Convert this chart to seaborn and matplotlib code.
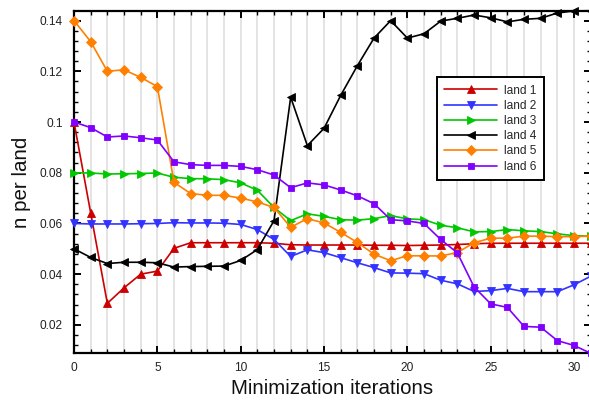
import numpy as np
import pandas as pd
import seaborn as sns
import matplotlib
matplotlib.use("Agg")
import matplotlib.pyplot as plt
from matplotlib.ticker import MultipleLocator, FuncFormatter

iterations = list(range(32))

land_1 = [0.1000, 0.0642, 0.0285, 0.0346, 0.0400, 0.0412, 0.0502, 0.0524,
          0.0524, 0.0524, 0.0524, 0.0524, 0.0522, 0.0516, 0.0515, 0.0515,
          0.0515, 0.0515, 0.0514, 0.0514, 0.0513, 0.0514, 0.0515, 0.0517,
          0.0520, 0.0522, 0.0522, 0.0522, 0.0522, 0.0522, 0.0522, 0.0522]
land_2 = [0.0600, 0.0598, 0.0598, 0.0598, 0.0599, 0.0600, 0.0603, 0.0602,
          0.0602, 0.0601, 0.0596, 0.0576, 0.0537, 0.0470, 0.0496, 0.0485,
          0.0465, 0.0445, 0.0426, 0.0405, 0.0404, 0.0402, 0.0376, 0.0362,
          0.0332, 0.0335, 0.0344, 0.0331, 0.0331, 0.0331, 0.0358, 0.0392]
land_3 = [0.0800, 0.0799, 0.0795, 0.0796, 0.0797, 0.0799, 0.0782, 0.0777,
          0.0776, 0.0773, 0.0760, 0.0731, 0.0663, 0.0611, 0.0638, 0.0628,
          0.0615, 0.0613, 0.0619, 0.0631, 0.0618, 0.0615, 0.0593, 0.0583,
          0.0567, 0.0568, 0.0576, 0.0571, 0.0568, 0.0559, 0.0552, 0.0550]
land_4 = [0.0500, 0.0466, 0.0442, 0.0447, 0.0447, 0.0445, 0.0428, 0.0430,
          0.0431, 0.0432, 0.0454, 0.0497, 0.0611, 0.1098, 0.0907, 0.0975,
          0.1105, 0.1222, 0.1331, 0.1400, 0.1331, 0.1348, 0.1398, 0.1409,
          0.1422, 0.1411, 0.1395, 0.1405, 0.1409, 0.1430, 0.1438, 0.1439]
land_5 = [0.1400, 0.1317, 0.1200, 0.1206, 0.1176, 0.1140, 0.0762, 0.0718,
          0.0711, 0.0711, 0.0700, 0.0685, 0.0663, 0.0585, 0.0619, 0.0602,
          0.0565, 0.0525, 0.0479, 0.0453, 0.0473, 0.0472, 0.0472, 0.0485,
          0.0524, 0.0542, 0.0542, 0.0550, 0.0550, 0.0548, 0.0548, 0.0550]
land_6 = [0.1000, 0.0978, 0.0941, 0.0945, 0.0938, 0.0929, 0.0843, 0.0832,
          0.0829, 0.0829, 0.0825, 0.0812, 0.0791, 0.0741, 0.0760, 0.0752,
          0.0732, 0.0709, 0.0678, 0.0615, 0.0610, 0.0600, 0.0537, 0.0484,
          0.0350, 0.0283, 0.0269, 0.0194, 0.0191, 0.0138, 0.0119, 0.0088]

series_names = ["land 1", "land 2", "land 3", "land 4", "land 5", "land 6"]
series_values = [land_1, land_2, land_3, land_4, land_5, land_6]

colors = {"land 1": "#cc0000", "land 2": "#3333ff", "land 3": "#00c800",
          "land 4": "#000000", "land 5": "#ff8000", "land 6": "#8000ff"}
markers = {"land 1": "^", "land 2": "v", "land 3": ">",
           "land 4": "<", "land 5": "D", "land 6": "s"}
marker_sizes = {"land 1": 5.2, "land 2": 5.2, "land 3": 5.2,
                "land 4": 5.2, "land 5": 4.6, "land 6": 4.6}

df = pd.DataFrame({
    "iteration": np.tile(iterations, len(series_names)),
    "value": np.concatenate(series_values),
    "land": np.repeat(series_names, len(iterations)),
})

sns.set_theme(style="white")
plt.rcParams["font.family"] = ["Liberation Sans", "DejaVu Sans"]

fig = plt.figure(figsize=(5.89, 4.05), dpi=100)
ax = fig.add_axes([74 / 589, 1 - 353.3 / 405, 516.7 / 589, 342.6 / 405])

sns.lineplot(data=df, x="iteration", y="value", hue="land", style="land",
             hue_order=series_names, style_order=series_names,
             palette=colors, markers=markers, dashes=False,
             linewidth=1.2, legend=False, ax=ax, zorder=3)

for line, name in zip(ax.lines, series_names):
    line.set_markeredgecolor(colors[name])
    line.set_markerfacecolor(colors[name])
    line.set_markersize(marker_sizes[name])
    line.set_markeredgewidth(0.6)
    line.set_clip_on(False)

all_vals = np.concatenate(series_values)
ax.set_xlim(0, 31)
ax.set_ylim(all_vals.min(), all_vals.max())

ax.xaxis.set_major_locator(MultipleLocator(5))
ax.xaxis.set_minor_locator(MultipleLocator(1))
ax.yaxis.set_major_locator(MultipleLocator(0.02))
ax.yaxis.set_minor_locator(MultipleLocator(0.004))
ax.yaxis.set_major_formatter(FuncFormatter(lambda v, p: f"{v:g}"))

ax.grid(axis="x", which="both", color="#dcdcdc", linewidth=1.1, zorder=0)
ax.grid(axis="y", visible=False)
ax.set_axisbelow(True)

for side in ["left", "top", "bottom", "right"]:
    ax.spines[side].set_color("black")
    ax.spines[side].set_linewidth(1.6)

ax.tick_params(which="major", direction="in", length=5, width=1.4,
               colors="black", labelsize=8.6, top=True, bottom=True,
               left=True, right=True)
ax.tick_params(which="minor", direction="in", length=3, width=1.0,
               colors="black", top=True, bottom=True, left=True, right=True)
ax.tick_params(axis="y", which="major", pad=8)
ax.tick_params(axis="x", which="major", pad=6)
for lab in ax.get_xticklabels() + ax.get_yticklabels():
    lab.set_color("#222222")

ax.set_xlabel("Minimization iterations", fontsize=14.8, color="#111111", labelpad=4)
ax.set_ylabel("n per land", fontsize=14.8, color="#111111", labelpad=6)

leg = ax.legend(ax.lines[:6], series_names, loc="upper left",
                bbox_to_anchor=(0.7025, 0.806), borderaxespad=0,
                fontsize=8.6, handlelength=4.4, handletextpad=0.6,
                labelspacing=0.27, borderpad=0.62, frameon=True,
                fancybox=False, framealpha=1, markerscale=1.0)
leg.get_frame().set_edgecolor("black")
leg.get_frame().set_linewidth(1.4)
leg.set_zorder(5)

fig.savefig("out.png", dpi=100)
